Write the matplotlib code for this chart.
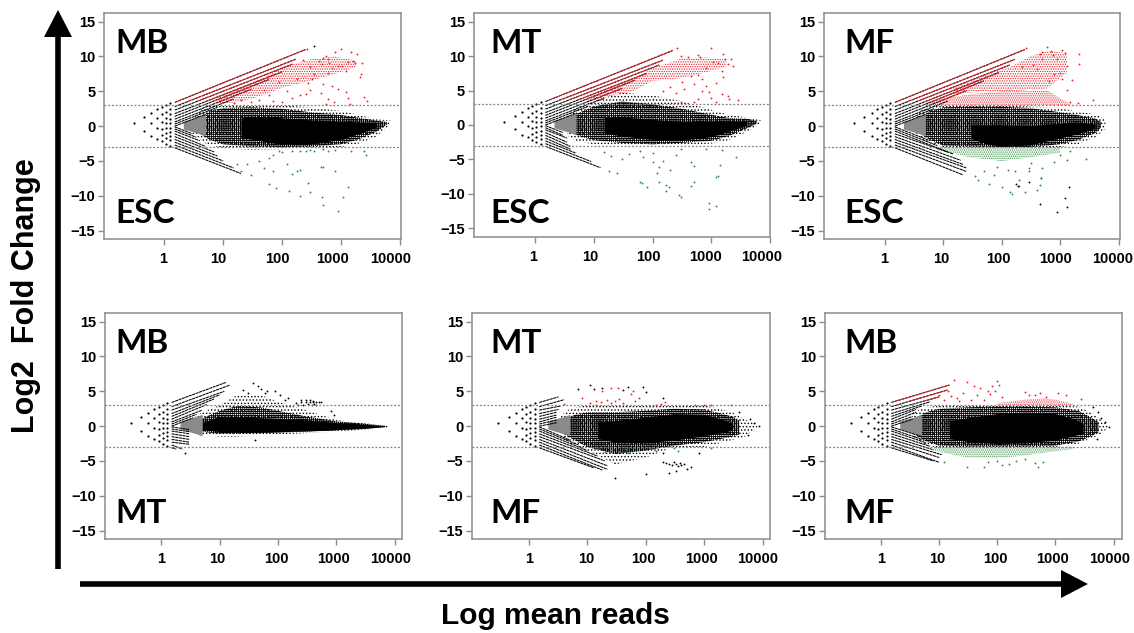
import matplotlib
matplotlib.use("Agg")
import matplotlib.pyplot as plt
from matplotlib.patches import Polygon, Rectangle
from matplotlib.transforms import ScaledTranslation

plt.rcParams['font.family'] = ['Liberation Sans', 'DejaVu Sans']
plt.rcParams['hatch.linewidth'] = 0.6

W, H = 1134, 633
X_TICKS = [1, 10, 100, 1000, 10000]
Y_TICKS = [-15, -10, -5, 0, 5, 10, 15]

# low count dots, the same in every panel
fan_x = [0.3, 0.45, 0.45, 0.6, 0.6, 0.6, 0.75, 0.75, 0.75, 0.75, 0.9, 0.9, 0.9, 0.9, 0.9, 0.9,
         1.05, 1.05, 1.05, 1.05, 1.05, 1.05, 1.05, 1.05, 1.25, 1.25, 1.25, 1.25, 1.25, 1.25, 1.25, 1.25, 1.25, 1.25]
fan_y = [0.4, 1.35, -0.65, 1.9, 0.4, -1.4, 2.4, 1.2, -0.2, -1.8, 2.8, 1.7, 0.6, -0.4, -1.3, -2.2,
         3.0, 2.1, 1.2, 0.4, -0.3, -1.0, -1.7, -2.5, 3.3, 2.5, 1.7, 1.0, 0.4, -0.2, -0.8, -1.4, -2.0, -2.8]

# streak starts at 1.5 reads
up_y0 = [3.4, 2.8, 2.3, 1.8, 1.4, 1.0, 0.6, 0.3, 0.0]
down_y0 = [-3.1, -2.7, -2.3, -1.9, -1.5, -1.1, -0.7, -0.4, -0.1]

# grey wedge where the streaks run together
wedge_x = [2.1, 3, 4, 5]
wedge_hi = [0.7, 1.1, 1.4, 1.7]
wedge_lo = [-0.4, -0.8, -1.1, -1.4]

# MB / ESC
p1_up_x = [250, 170, 150, 100, 60, 30, 15, 8, 5]
p1_up_y = [11, 9.6, 8.9, 7.8, 6.7, 5.3, 3.9, 2.7, 1.7]
p1_down_x = [20, 15, 10, 8, 7, 5, 4, 3.5, 3]
p1_down_y = [-6.8, -6, -5, -4.3, -3.7, -2.9, -2.1, -1.6, -1.1]
p1_env_x = [3, 5, 10, 30, 100, 300, 1000, 2000, 4000, 7000]
p1_env_hi = [1.0, 3.0, 3.0, 3.0, 3.0, 2.7, 2.2, 1.6, 1.0, 0.8]
p1_env_lo = [-1.0, -2.5, -3.2, -3.4, -3.3, -3.2, -3.0, -2.5, -1.5, 0.3]
p1_mid_x = [4, 6, 10, 30, 100, 300, 1000, 2000, 4000, 6000]
p1_mid_hi = [1.2, 2.2, 2.6, 2.7, 2.5, 2.0, 1.6, 1.2, 0.8, 0.6]
p1_mid_lo = [-1.1, -2.0, -2.6, -2.9, -3.0, -2.9, -2.6, -1.9, -0.8, 0.2]
p1_core_x = [20, 50, 100, 300, 1000, 2000, 4000]
p1_core_hi = [1.2, 1.4, 1.2, 0.9, 0.7, 0.6, 0.5]
p1_core_lo = [-1.6, -2.2, -2.6, -2.6, -1.9, -1.1, -0.1]
p1_rband_x = [8, 20, 50, 100, 300, 800, 1800]
p1_rband_hi = [4.2, 5.6, 7.0, 8.4, 9.6, 10, 9.4]
p1_rband_lo = [3.2, 3.5, 4.5, 5.5, 6.5, 7.5, 8.5]
p1_red_x = [260, 300, 420, 480, 500, 550, 600, 620, 700, 800, 900, 1000, 1050, 1200, 1300, 1500, 1600, 1700, 1900, 2300,
            2200, 2100, 2500, 2800, 250, 300, 450, 600, 750, 900, 1200, 1300, 200, 150, 100, 120, 70, 60, 40, 30, 20,
            15, 500, 550, 700, 1400, 180, 350, 320, 280, 600, 230, 90, 50]
p1_red_y = [11.1, 8.5, 9.3, 8.9, 9.8, 10, 9.6, 9.1, 8.3, 10.7, 8.7, 11.1, 8.6, 7.9, 9.2, 10.6, 9.4, 9, 10.3, 9.1,
            7.5, 7, 4.2, 3.6, 4.6, 5.2, 4.8, 3.9, 3.5, 5.3, 4.9, 4.1, 4.5, 4.1, 3.5, 5, 3.6, 4.5, 3.8, 3.4, 3.7,
            3.3, 6.1, 3.2, 5.8, 3.2, 6.7, 7.5, 6.8, 6.2, 7.6, 9.5, 6.3, 5.2]
p1_green_x = [60, 80, 130, 200, 300, 280, 480, 500, 900, 1100, 1300, 800, 500, 450, 120, 150, 180, 200, 70, 50, 30, 20,
              17, 40, 70, 100, 150, 200, 300, 500, 800, 1500, 2500, 2700, 25, 60, 90, 250, 350, 600]
p1_green_y = [-8.3, -8.9, -9.3, -10, -9.5, -8.2, -10.2, -11.3, -12.2, -10.1, -8.8, -6.5, -5.8, -5.8, -5.5, -6.8, -6.5,
              -6.3, -6.5, -6, -7, -6.5, -5.5, -5, -4.2, -3.7, -3.5, -3.5, -3.4, -3.3, -3.4, -3.5, -3.5, -4.2, -5.5, -4.6,
              -3.6, -3.6, -3.5, -3.6]

# MT / ESC
p2_up_x = [220, 150, 130, 80, 50, 30, 15, 8, 5]
p2_up_y = [10.8, 9.4, 8.7, 7.5, 6.5, 5.3, 3.9, 2.7, 1.7]
p2_down_x = [13, 9, 5, 4, 4, 3.5, 3.5, 3, 3]
p2_down_y = [-6.2, -5.3, -4.1, -3.5, -3.1, -2.5, -1.9, -1.5, -1.1]
p2_env_x = [3.5, 5, 10, 30, 100, 300, 1000, 2000, 4000, 7000]
p2_env_hi = [1.5, 2.5, 3.5, 4.7, 4.3, 3.5, 2.2, 1.5, 1.1, 0.7]
p2_env_lo = [-1.5, -2.3, -2.8, -3.0, -3.0, -2.9, -2.7, -2.2, -1.0, 0.2]
p2_mid_x = [4, 6, 10, 30, 100, 300, 1000, 2000, 4000, 6000]
p2_mid_hi = [1.2, 1.9, 2.7, 3.4, 3.0, 2.4, 1.5, 1.0, 0.9, 0.6]
p2_mid_lo = [-1.1, -1.7, -2.2, -2.6, -2.8, -2.6, -2.3, -1.6, -0.5, 0.2]
p2_core_x = [15, 30, 100, 300, 1000, 2000, 4000]
p2_core_hi = [1.1, 1.2, 0.8, 0.5, 0.6, 0.6, 0.6]
p2_core_lo = [-1.2, -1.6, -2.1, -2.2, -1.7, -0.9, -0.05]
p2_rband_x = [8, 20, 50, 100, 300, 800, 1800]
p2_rband_hi = [4.0, 5.4, 6.8, 8.2, 9.6, 9.8, 9.5]
p2_rband_lo = [3.4, 4.2, 5.0, 6.4, 6.8, 7.6, 8.5]
p2_red_x = [260, 300, 400, 600, 650, 1000, 1050, 1300, 1600, 1700, 1900, 2200, 2300, 1500, 1600, 800, 600, 450, 500,
            350, 250, 700, 900, 1000, 1200, 1500, 1900, 2000, 2800, 200, 150, 100, 300, 320, 500, 600, 800, 700, 1200]
p2_red_y = [11.1, 10, 9.8, 10.2, 9.9, 11.2, 9.1, 9, 10.3, 9.5, 8.8, 9.6, 8.6, 7.8, 7, 8.3, 7.3, 7.1, 5.9,
            5.2, 4.6, 5, 4.8, 3.9, 3.3, 4.5, 4.2, 3.7, 3.6, 5.5, 4.9, 3.8, 3.3, 6.3, 3.4, 3.7, 5.6, 6.6, 6.1]
p2_green_x = [60, 65, 130, 170, 80, 170, 190, 280, 300, 450, 500, 900, 900, 1200, 1300, 1200, 1400, 500, 450, 100, 130,
              150, 200, 30, 40, 25, 18, 60, 70, 100, 300, 800, 1500, 2600, 20, 15, 250, 120]
p2_green_y = [-8.3, -8.4, -8.3, -8.7, -9, -9.5, -9, -10.2, -10.5, -8.9, -8.3, -11.3, -12.2, -11.7, -7.4, -7.6, -5.8, -6,
              -5.3, -5.4, -6.1, -5.2, -6.5, -5, -4.2, -7, -6.6, -3.8, -4.6, -4.1, -3.5, -3.5, -3.6, -4.6, -4.5, -3.9,
              -4.3, -7]

# MF / ESC
p3_up_x = [250, 170, 140, 90, 50, 25, 12, 7, 5]
p3_up_y = [11, 9.6, 8.8, 7.7, 6.5, 5.1, 3.6, 2.5, 1.7]
p3_down_x = [22, 25, 25, 22, 20, 15, 12, 8, 6]
p3_down_y = [-7, -6.5, -6, -5.5, -4.9, -4, -3.7, -2.8, -2.1]
p3_env_x = [3.5, 5, 10, 100, 1000, 2000, 4000, 6000]
p3_env_hi = [1.8, 2.8, 3.0, 3.0, 2.6, 2.1, 1.7, 1.0]
p3_env_lo = [-1.2, -2.2, -3.0, -3.0, -3.0, -2.6, -1.6, -0.4]
p3_mid_x = [4, 6, 10, 30, 100, 300, 1000, 2000, 4000, 5000]
p3_mid_hi = [1.2, 2.2, 2.7, 2.8, 2.8, 2.6, 2.0, 1.6, 1.1, 0.6]
p3_mid_lo = [-1.0, -2.0, -2.8, -2.9, -3.0, -3.0, -2.6, -2.0, -1.0, -0.2]
p3_core_x = [30, 60, 100, 300, 1000, 2000, 4000]
p3_core_hi = [0.2, 0.2, 0.2, 0.1, 0.4, 0.6, 0.3]
p3_core_lo = [-1.8, -2.6, -2.9, -2.7, -1.7, -1.1, -0.3]
p3_rband_x = [5, 10, 30, 100, 300, 600, 1000, 1500]
p3_rband_hi = [3.3, 4.0, 4.6, 5.0, 5.0, 5.2, 4.0, 3.2]
p3_rband_lo = [3.0, 3.0, 3.0, 3.0, 3.0, 3.0, 3.0, 3.0]
p3_r2band_x = [15, 50, 150, 300, 600, 1300]
p3_r2band_hi = [5.4, 7.2, 8.6, 10, 10.8, 10.5]
p3_r2band_lo = [4.6, 5.0, 5.0, 5.2, 5.4, 7.6]
p3_gband_x = [8, 30, 100, 300, 1000]
p3_gband_hi = [-3.0, -3.0, -3.0, -3.0, -3.0]
p3_gband_lo = [-3.4, -4.5, -5.0, -4.5, -3.8]
p3_red_x = [260, 450, 500, 600, 700, 900, 1100, 1200, 1300, 2100, 2100, 1600, 1300, 1500, 3700, 2000, 1100, 1000, 800,
            650, 350, 220, 500, 750, 400]
p3_red_y = [11.2, 10.3, 10.6, 11.3, 10.8, 9.6, 10.9, 10.5, 8.7, 10.3, 8.9, 6.6, 5.2, 3.4, 3.7, 3.3, 6.8, 7.7, 7.5,
            6.5, 8.8, 8.5, 9.7, 10.2, 8.2]
p3_green_x = [40, 60, 75, 100, 140, 150, 170, 200, 250, 300, 400, 450, 470, 480, 500, 800, 1000, 1300, 2800, 35, 50,
              85, 130, 200, 320, 290, 1500]
p3_green_y = [-7.8, -8.3, -7, -8.8, -9.5, -9.7, -6.5, -8.6, -9.5, -6.5, -9.2, -8.5, -7.4, -7.5, -6, -5.2, -4.2, -4.9,
              -4.7, -7.1, -6.5, -5.8, -6.3, -7.7, -5.3, -6, -3.5]
p3_black_x = [450, 900, 1200, 1300, 1400, 180, 190, 300]
p3_black_y = [-11.2, -12.3, -10.3, -11.6, -8.8, -8.3, -8.6, -8]

# MB / MT
p4_up_x = [13, 15, 12, 10, 8, 6, 5, 4, 3.5]
p4_up_y = [6.3, 5.9, 5, 4.5, 3.9, 3.1, 2.3, 1.7, 1.2]
p4_down_x = [1.8, 2.3, 3, 3, 3, 3, 3, 3, 3]
p4_down_y = [-3.3, -3.3, -2.6, -2.3, -1.9, -1.5, -1.1, -0.8, -0.5]
p4_env_x = [3, 5, 10, 20, 50, 100, 300, 1000, 3000, 8000]
p4_env_hi = [0.8, 2.0, 3.0, 4.5, 4.5, 3.5, 2.3, 0.9, 0.4, 0.1]
p4_env_lo = [-0.8, -1.2, -1.5, -1.5, -1.3, -1.2, -1.0, -0.8, -0.5, -0.2]
p4_mid_x = [4, 6, 10, 20, 50, 100, 300, 1000, 3000, 7000]
p4_mid_hi = [0.7, 1.4, 2.2, 2.9, 2.7, 2.2, 1.4, 0.7, 0.35, 0.05]
p4_mid_lo = [-0.6, -0.9, -1.1, -1.1, -1.0, -0.9, -0.8, -0.6, -0.4, -0.15]
p4_core_x = [5, 10, 30, 100, 300, 1000, 3000, 6000]
p4_core_hi = [0.5, 1.4, 1.3, 1.1, 0.9, 0.5, 0.3, 0.0]
p4_core_lo = [-0.5, -0.8, -0.9, -0.8, -0.7, -0.5, -0.3, -0.1]
p4_black_x = [37, 45, 52, 65, 25, 30, 60, 110, 150, 200, 220, 250, 270, 300, 330, 350, 380, 400, 420, 450, 500, 550,
              250, 300, 350, 400, 800, 2.5, 900, 450, 90, 130, 40]
p4_black_y = [6.2, 5.8, 5.3, 5.1, 5.2, 4.8, 4.8, 4.5, 4.1, 3.3, 3.0, 3.4, 3.1, 3.5, 3.2, 3.4, 3.1, 3.5, 3.2, 3.0, 3.5,
              3.5, 3.7, 3.7, 3.7, 3.6, 2.2, -3.8, 1.6, 3.4, 5, 3.8, -2]

# MT / MF
p5_up_x = [3.2, 4, 3.5, 3.2, 3, 3, 3, 3, 3]
p5_up_y = [4.2, 3.8, 2.9, 2.4, 2, 1.6, 1.3, 0.9, 0.5]
p5_down_x = [13, 18, 22, 22, 20, 15, 10, 7, 5]
p5_down_y = [-6, -6.3, -6.2, -5.7, -5, -4.3, -3.5, -2.7, -2]
p5_env_x = [3.5, 5, 10, 30, 100, 300, 1000, 3000, 5000, 8000]
p5_env_hi = [1.5, 2.5, 3.0, 3.0, 3.0, 3.0, 3.0, 2.0, 1.0, 0.3]
p5_env_lo = [-1.3, -2.5, -3.5, -5.5, -4.5, -3.0, -3.0, -2.0, -1.5, -0.2]
p5_mid_x = [4, 6, 10, 30, 100, 300, 1000, 3000, 4000]
p5_mid_hi = [1.0, 1.6, 2.0, 2.0, 2.2, 2.5, 2.4, 1.4, 0.8]
p5_mid_lo = [-1.2, -2.0, -3.0, -4.0, -3.5, -2.8, -2.3, -1.5, -1.2]
p5_core_x = [15, 30, 100, 300, 1000, 2000, 3000]
p5_core_hi = [0.6, 0.8, 1.3, 1.8, 1.7, 1.0, 0.4]
p5_core_lo = [-1.8, -2.3, -2.4, -2.0, -1.4, -0.9, -0.6]
p5_red_x = [4, 8, 11, 14, 18, 25, 30, 33, 40, 60, 14, 17, 22, 25, 35, 55, 65, 75, 150, 180, 210, 1000, 1300, 2900, 700]
p5_red_y = [3.2, 4, 3.3, 3.6, 5.1, 5.5, 3.6, 5.5, 3.3, 5, 3.1, 3.4, 3.7, 3.3, 3.9, 4.6, 3.6, 4, 3.1, 3.2, 3.4, 3, 3.1, 3.1, 3.1]
p5_green_x = [15, 20, 25, 35, 45, 50, 60, 120, 150, 300, 350, 1300]
p5_green_y = [-3.3, -3.7, -3.4, -3.5, -3.3, -3.8, -3.2, -3.1, -3.6, -3.2, -3.6, -3.2]
p5_black_x = [7, 11, 13, 18, 40, 90, 50, 100, 200, 220, 250, 280, 300, 330, 350, 380, 400, 450, 250, 330, 600, 500, 800,
              200, 4000, 6000, 8500, 7000, 5500, 30, 100, 200]
p5_black_y = [5.3, 5.9, 5.4, 5.5, 5.2, 5.6, 5.6, 4.9, 4, -5.3, -5.5, -5.6, -5.1, -5.5, -5.7, -5.3, -5.6, -5.5, -6.7, -6.5,
              -5.9, -6.1, -3.8, -5.1, 2, 1, 0, 0.5, -1.2, -7.4, -6.8, -3.8]

# MB / MF
p6_up_x = [15, 14, 10, 7, 5, 4, 4, 3.5, 3.5]
p6_up_y = [5.9, 5.2, 4.2, 3.5, 2.9, 2.4, 2, 1.4, 1]
p6_down_x = [8, 10, 10, 11, 8, 7, 6, 5, 5]
p6_down_y = [-5, -5.2, -4.5, -4.1, -3.4, -2.9, -2.4, -1.9, -1.5]
p6_env_x = [3.5, 5, 10, 100, 1000, 2500, 4000, 6000, 8000]
p6_env_hi = [2.0, 2.5, 3.0, 3.0, 3.0, 2.8, 2.0, 1.0, 0.2]
p6_env_lo = [-1.5, -2.5, -3.2, -3.0, -3.0, -2.5, -1.8, -1.2, -0.2]
p6_mid_x = [4, 6, 10, 30, 100, 300, 1000, 2500, 4000, 5500]
p6_mid_hi = [1.2, 2.0, 2.5, 2.7, 2.8, 2.8, 2.7, 2.2, 1.3, 0.6]
p6_mid_lo = [-1.3, -2.2, -2.8, -2.9, -2.9, -2.9, -2.8, -2.2, -1.5, -0.9]
p6_core_x = [15, 30, 100, 300, 1000, 2000, 3000]
p6_core_hi = [0.8, 1.2, 1.8, 2.0, 1.8, 1.1, 0.4]
p6_core_lo = [-1.8, -2.2, -2.5, -2.4, -2.0, -1.4, -1.0]
p6_rband_x = [100, 300, 600, 1000, 2000]
p6_rband_hi = [3.3, 3.8, 4.0, 3.8, 3.2]
p6_rband_lo = [3.0, 3.0, 3.0, 3.0, 3.0]
p6_gband_x = [8, 30, 100, 300, 1000, 2000]
p6_gband_hi = [-3.0, -3.0, -3.0, -3.0, -3.0, -3.0]
p6_gband_lo = [-3.5, -4.5, -4.6, -4.2, -3.6, -3.3]
p6_red_x = [10, 12, 14, 16, 18, 20, 22, 26, 30, 35, 40, 45, 50, 60, 70, 75, 80, 90, 100, 105, 120, 300, 350, 450, 1100,
            1500, 2700, 550, 700]
p6_red_y = [4.5, 3.8, 5, 4.3, 6.6, 4.1, 3.6, 4.7, 6.4, 3.8, 5.8, 4.4, 5.5, 3.7, 5, 4.6, 5.8, 5.1, 6.5, 5.9, 4.2, 4.9, 4.4,
            4.5, 4.8, 4.4, 3.9, 4.7, 4.2]
p6_green_x = [12, 30, 60, 70, 100, 120, 160, 210, 450, 500, 620, 300]
p6_green_y = [-5.2, -5.9, -5.8, -5.2, -5, -5.6, -5.5, -5, -5.3, -5.8, -5.1, -4.7]
p6_black_x = [4500, 5500, 6000, 7000, 8500, 5200]
p6_black_y = [2.7, 2, 1.2, 0.6, -0.1, -1.8]

SPARSE = '.......'
DENSE = '........'

panels = [
    dict(box=(104.3, 13.3, 401, 239), xl=(-1.02, 4.02), dx=[-1, -5, -5, -8, -9], top='MB', bot='ESC', lx=115,
         up=(p1_up_x, p1_up_y), down=(p1_down_x, p1_down_y), env=(p1_env_x, p1_env_hi, p1_env_lo),
         mid=(p1_mid_x, p1_mid_hi, p1_mid_lo), core=(p1_core_x, p1_core_hi, p1_core_lo),
         rb=[(p1_rband_x, p1_rband_hi, p1_rband_lo, SPARSE)], gb=[], red=(p1_red_x, p1_red_y),
         green=(p1_green_x, p1_green_y), black=([350], [11.5]), red_streak=True),
    dict(box=(474, 13.3, 770, 236.7), xl=(-1.04, 4.0), dx=[-2, -4, -4, -6, -8], top='MT', bot='ESC', lx=490,
         up=(p2_up_x, p2_up_y), down=(p2_down_x, p2_down_y), env=(p2_env_x, p2_env_hi, p2_env_lo),
         mid=(p2_mid_x, p2_mid_hi, p2_mid_lo), core=(p2_core_x, p2_core_hi, p2_core_lo),
         rb=[(p2_rband_x, p2_rband_hi, p2_rband_lo, SPARSE)], gb=[], red=(p2_red_x, p2_red_y),
         green=(p2_green_x, p2_green_y), black=([], []), red_streak=True),
    dict(box=(824.3, 13.3, 1120.3, 239), xl=(-1.03, 4.03), dx=[0, -2, -3, -5, -6], top='MF', bot='ESC', lx=844,
         up=(p3_up_x, p3_up_y), down=(p3_down_x, p3_down_y), env=(p3_env_x, p3_env_hi, p3_env_lo),
         mid=(p3_mid_x, p3_mid_hi, p3_mid_lo), core=(p3_core_x, p3_core_hi, p3_core_lo),
         rb=[(p3_rband_x, p3_rband_hi, p3_rband_lo, DENSE), (p3_r2band_x, p3_r2band_hi, p3_r2band_lo, SPARSE)],
         gb=[(p3_gband_x, p3_gband_hi, p3_gband_lo, DENSE)], red=(p3_red_x, p3_red_y),
         green=(p3_green_x, p3_green_y), black=(p3_black_x, p3_black_y), red_streak=True),
    dict(box=(105, 313.3, 401.7, 539), xl=(-0.966, 4.12), dx=[0, -2, -2, -3, -4], top='MB', bot='MT', lx=115,
         up=(p4_up_x, p4_up_y), down=(p4_down_x, p4_down_y), env=(p4_env_x, p4_env_hi, p4_env_lo),
         mid=(p4_mid_x, p4_mid_hi, p4_mid_lo), core=(p4_core_x, p4_core_hi, p4_core_lo),
         rb=[], gb=[], red=([], []), green=([], []), black=(p4_black_x, p4_black_y), red_streak=False),
    dict(box=(472.3, 313.3, 769.7, 539), xl=(-0.97, 4.12), dx=[0, -1, -2, -3, -5], top='MT', bot='MF', lx=490,
         up=(p5_up_x, p5_up_y), down=(p5_down_x, p5_down_y), env=(p5_env_x, p5_env_hi, p5_env_lo),
         mid=(p5_mid_x, p5_mid_hi, p5_mid_lo), core=(p5_core_x, p5_core_hi, p5_core_lo),
         rb=[], gb=[], red=(p5_red_x, p5_red_y), green=(p5_green_x, p5_green_y),
         black=(p5_black_x, p5_black_y), red_streak=False),
    dict(box=(825, 313.3, 1121.7, 539), xl=(-0.964, 4.14), dx=[0, -2, -2, -3, -4], top='MB', bot='MF', lx=844,
         up=(p6_up_x, p6_up_y), down=(p6_down_x, p6_down_y), env=(p6_env_x, p6_env_hi, p6_env_lo),
         mid=(p6_mid_x, p6_mid_hi, p6_mid_lo), core=(p6_core_x, p6_core_hi, p6_core_lo),
         rb=[(p6_rband_x, p6_rband_hi, p6_rband_lo, DENSE)], gb=[(p6_gband_x, p6_gband_hi, p6_gband_lo, DENSE)],
         red=(p6_red_x, p6_red_y), green=(p6_green_x, p6_green_y), black=(p6_black_x, p6_black_y), red_streak=True),
]


def draw_panel(fig, p):
    left, top, right, bottom = p['box']
    ax = fig.add_axes([left / W, 1 - bottom / H, (right - left) / W, (bottom - top) / H])
    ax.set_xscale('log')
    ax.set_xlim(10 ** p['xl'][0], 10 ** p['xl'][1])
    ax.set_ylim(-16.2, 16.2)
    ax.minorticks_off()

    for bx, bhi, blo, hatch in p['rb']:
        ax.fill_between(bx, blo, bhi, facecolor='none', edgecolor='#e8202a', hatch=hatch, linewidth=0, zorder=1.5)
    for bx, bhi, blo, hatch in p['gb']:
        ax.fill_between(bx, blo, bhi, facecolor='none', edgecolor='#2e8b3a', hatch=hatch, linewidth=0, zorder=1.5)

    # stippled outer cloud, speckled middle, solid centre
    ex, ehi, elo = p['env']
    ax.fill_between(ex, elo, ehi, facecolor='none', edgecolor='black', hatch='.....', linewidth=0, zorder=2)
    mx, mhi, mlo = p['mid']
    ax.fill_between(mx, mlo, mhi, facecolor='none', edgecolor='black', hatch='++++++++', linewidth=0, zorder=2.5)
    cx, chi, clo = p['core']
    ax.fill_between(cx, clo, chi, color='black', linewidth=0, zorder=3)
    ax.fill_between(wedge_x, wedge_lo, wedge_hi, color='#8a8a8a', linewidth=0, zorder=3)

    # count streaks
    dash = (0, (3, 0.5))
    for i in range(len(up_y0)):
        ax.plot([1.5, p['up'][0][i]], [up_y0[i], p['up'][1][i]], color='black', lw=0.75, ls=dash, zorder=4)
        if p['red_streak']:
            red_part, = ax.plot([1.5, p['up'][0][i]], [up_y0[i], p['up'][1][i]], color='#d8202a', lw=0.75, ls=dash, zorder=5)
            red_part.set_clip_path(Rectangle((0.01, 3.6), 1e6, 20, transform=ax.transData))
        ax.plot([1.5, p['down'][0][i]], [down_y0[i], p['down'][1][i]], color='black', lw=0.75, ls=dash, zorder=4)

    ax.scatter(fan_x, fan_y, s=2.5, color='black', linewidths=0, zorder=4)
    ax.scatter(p['red'][0], p['red'][1], s=1.8, color='#e8202a', linewidths=0, zorder=5)
    ax.scatter(p['green'][0], p['green'][1], s=1.8, color='#2e8b3a', linewidths=0, zorder=5)
    ax.scatter(p['black'][0], p['black'][1], s=1.8, color='black', linewidths=0, zorder=5)

    ax.axhline(3, color='#808080', lw=0.9, ls=(0, (1.5, 1.5)), zorder=6)
    ax.axhline(-3, color='#808080', lw=0.9, ls=(0, (1.5, 1.5)), zorder=6)

    for s in ax.spines.values():
        s.set_color('#8c8c8c')
        s.set_linewidth(1.1)
    ax.set_xticks(X_TICKS)
    ax.set_xticklabels([str(t) for t in X_TICKS])
    ax.set_yticks(Y_TICKS)
    ax.tick_params(axis='both', color='#8c8c8c', length=4.5, width=1, labelsize=10.5)
    ax.tick_params(axis='x', pad=5)
    ax.tick_params(axis='y', pad=2)
    for lab in ax.get_xticklabels() + ax.get_yticklabels():
        lab.set_fontweight('bold')
    for lab, dx in zip(ax.get_xticklabels(), p['dx']):
        lab.set_transform(lab.get_transform() + ScaledTranslation(dx / 100, 0, fig.dpi_scale_trans))
    return ax


fig = plt.figure(figsize=(W / 100, H / 100), dpi=100)
for p in panels:
    draw_panel(fig, p)

# everything drawn in picture pixels on top: panel names, big arrows, axis titles
over = fig.add_axes([0, 0, 1, 1], zorder=10)
over.set_xlim(0, W)
over.set_ylim(H, 0)
over.axis('off')
over.patch.set_alpha(0)

for p in panels:
    ty = p['box'][1]
    over.text(p['lx'], ty + 30, p['top'], family=['Lato', 'DejaVu Sans'], fontweight='bold', fontsize=24,
              va='center', ha='left', color='black')
    over.text(p['lx'], ty + 200, p['bot'], family=['Lato', 'DejaVu Sans'], fontweight='bold', fontsize=24,
              va='center', ha='left', color='black')

over.add_patch(Polygon([(55.2, 569), (55.2, 37), (44, 37), (58, 10), (72, 37), (60.8, 37), (60.8, 569)],
                       closed=True, color='black', lw=0))
over.add_patch(Polygon([(80, 581.2), (1061, 581.2), (1061, 570), (1088, 584), (1061, 598), (1061, 586.8), (80, 586.8)],
                       closed=True, color='black', lw=0))
over.text(26, 296, 'Log2  Fold Change', rotation=90, fontsize=22, fontweight='bold', ha='center', va='center')
over.text(555, 616, 'Log mean reads', fontsize=21.5, fontweight='bold', ha='center', va='center')

fig.savefig('out.png', dpi=100)
